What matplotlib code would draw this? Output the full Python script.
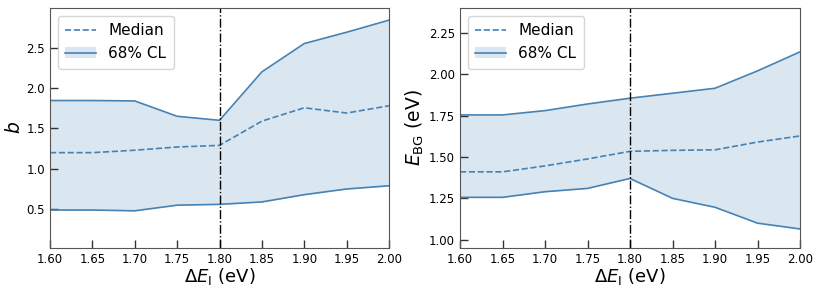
import matplotlib
matplotlib.use("Agg")
import matplotlib.pyplot as plt
from matplotlib.lines import Line2D
from matplotlib.patches import Patch

# Valores
delta_e = [1.60, 1.65, 1.70, 1.75, 1.80, 1.85, 1.90, 1.95, 2.00]

b_median = [1.20, 1.20, 1.23, 1.27, 1.29, 1.59, 1.755, 1.69, 1.78]
b_upper = [1.845, 1.845, 1.84, 1.65, 1.60, 2.20, 2.55, 2.69, 2.84]
b_lower = [0.49, 0.49, 0.48, 0.55, 0.56, 0.59, 0.68, 0.75, 0.79]

ebg_median = [1.41, 1.41, 1.446, 1.488, 1.534, 1.54, 1.543, 1.59, 1.627]
ebg_upper = [1.754, 1.754, 1.78, 1.82, 1.855, 1.885, 1.915, 2.02, 2.135]
ebg_lower = [1.256, 1.256, 1.29, 1.31, 1.37, 1.25, 1.196, 1.10, 1.065]

x_ticks = [1.60, 1.65, 1.70, 1.75, 1.80, 1.85, 1.90, 1.95, 2.00]
b_ticks = [0.5, 1.0, 1.5, 2.0, 2.5]
ebg_ticks = [1.00, 1.25, 1.50, 1.75, 2.00, 2.25]
e_threshold = 1.80

color = 'steelblue'

fig = plt.figure(figsize=(8.22, 2.94), dpi=100)
ax1 = fig.add_axes([50 / 822, 46 / 294, 339 / 822, 240 / 294])
ax2 = fig.add_axes([460 / 822, 46 / 294, 340 / 822, 240 / 294])


def draw_panel(ax, median, lower, upper, yticks, ylim, fmt, ylabel):
    ax.fill_between(delta_e, lower, upper, color=color, alpha=0.2, linewidth=0)
    ax.plot(delta_e, upper, color=color, lw=1.2)
    ax.plot(delta_e, lower, color=color, lw=1.2)
    ax.plot(delta_e, median, color=color, lw=1.2, ls='--')
    ax.axvline(e_threshold, color='black', lw=1.0, ls='-.')
    ax.set_xlim(1.6, 2.0)
    ax.set_ylim(*ylim)
    ax.set_xticks(x_ticks)
    ax.set_xticklabels([f'{v:.2f}' for v in x_ticks])
    ax.set_yticks(yticks)
    ax.set_yticklabels([fmt.format(v) for v in yticks])
    ax.tick_params(direction='in', length=6, width=1, labelsize=8.5, color='#333333')
    for s in ax.spines.values():
        s.set_color('#555555')
    ax.set_xlabel(r'$\Delta E_{\mathrm{I}}$ (eV)', fontsize=13, labelpad=0)
    ax.set_ylabel(ylabel, fontsize=13.5, labelpad=2)
    h_med = Line2D([], [], color=color, ls='--', lw=1.2)
    h_cl = (Patch(facecolor=color, alpha=0.2, edgecolor='none'),
            Line2D([], [], color=color, lw=1.2))
    ax.legend([h_med, h_cl], ['Median', '68% CL'], loc='upper left',
              fontsize=11, handlelength=2.0, borderpad=0.5)


draw_panel(ax1, b_median, b_lower, b_upper, b_ticks, (0.02, 2.99), '{:.1f}', r'$b$')
draw_panel(ax2, ebg_median, ebg_lower, ebg_upper, ebg_ticks, (0.95, 2.40), '{:.2f}',
           r'$E_{\mathrm{BG}}$ (eV)')

fig.savefig('out.png', dpi=100)
